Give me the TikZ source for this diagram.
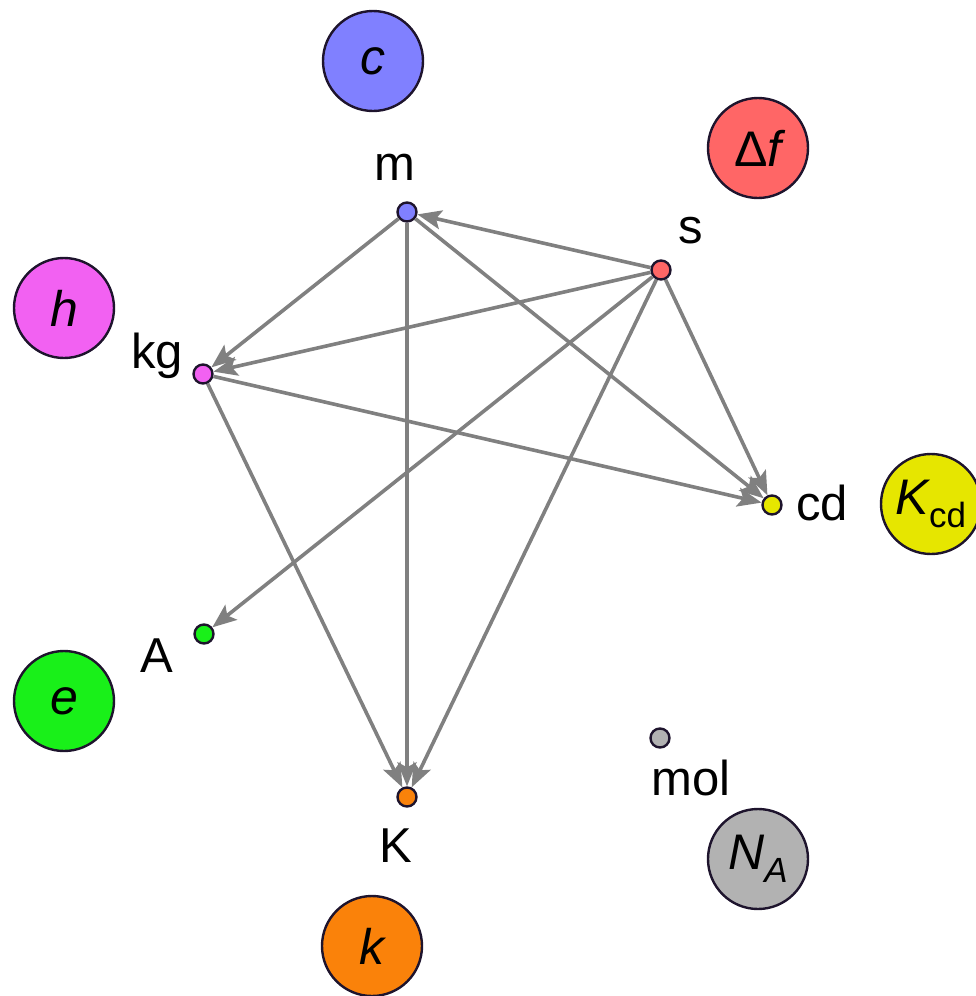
\documentclass[tikz,border=0pt]{standalone}
\usepackage{fontspec}
\setmainfont{Liberation Sans}
\usetikzlibrary{arrows.meta}
\definecolor{cblue}{RGB}{128,128,255}
\definecolor{cred}{RGB}{255,102,102}
\definecolor{cmag}{RGB}{242,97,242}
\definecolor{cyel}{RGB}{230,230,0}
\definecolor{cgreen}{RGB}{25,240,25}
\definecolor{cgray}{RGB}{178,178,178}
\definecolor{corange}{RGB}{250,130,10}
\definecolor{outl}{RGB}{30,20,45}
\definecolor{edgegray}{RGB}{128,128,128}
\begin{document}
\begin{tikzpicture}[x=1pt,y=-1pt,
  bigc/.style={circle,draw=outl,line width=2.4pt,minimum size=100pt,inner sep=0pt,
    font=\fontsize{50}{54}\selectfont\itshape},
  dotn/.style={circle,draw=outl,line width=2.4pt,minimum size=19pt,inner sep=0pt},
  lbl/.style={inner sep=0pt,anchor=base,font=\fontsize{49}{53}\selectfont},
  edge/.style={draw=edgegray,line width=3.6pt,
    -{Stealth[length=24pt,width=19pt,inset=5pt]}}]
\useasboundingbox (0,0) rectangle (975,996);
% big circles
\node[bigc,fill=cblue] (cC) at (373,61) {c};
\node[bigc,fill=cred] (cDf) at (758,148) {{\upshape\symbol{"0394}}f};
\node[bigc,fill=cmag] (cH) at (64,308) {h};
\node[bigc,fill=cyel] (cK) at (931,504) {K\raisebox{-0.25em}{\upshape\fontsize{35}{35}\selectfont cd}};
\node[bigc,fill=cgreen] (cE) at (64,701) {e};
\node[bigc,fill=cgray] (cN) at (758,859) {N\raisebox{-0.25em}{\fontsize{35}{35}\selectfont A}};
\node[bigc,fill=corange] (cKb) at (372,946) {k};
% dots
\node[dotn,fill=cblue] (m) at (407,212) {};
\node[dotn,fill=cred] (s) at (661,270) {};
\node[dotn,fill=cmag] (kg) at (203,374) {};
\node[dotn,fill=cyel] (cd) at (772,505) {};
\node[dotn,fill=cgreen] (A) at (204,634) {};
\node[dotn,fill=cgray] (mol) at (660,738) {};
\node[dotn,fill=corange] (K) at (407,797) {};
% labels
\node[lbl] (mL) at (395,180) {m};
\node[lbl] (sL) at (691,243) {s};
\node[lbl] (kgL) at (157,368) {kg};
\node[lbl] (cdL) at (822,520) {cd};
\node[lbl] (AL) at (157,672) {A};
\node[lbl] (molL) at (691,795) {mol};
\node[lbl] (KL) at (396,862) {K};
% edges
\draw[edge] (s) -- (m);
\draw[edge] (s) -- (kg);
\draw[edge] (s) -- (A);
\draw[edge] (s) -- (K);
\draw[edge] (s) -- (cd);
\draw[edge] (m) -- (kg);
\draw[edge] (m) -- (K);
\draw[edge] (m) -- (cd);
\draw[edge] (kg) -- (cd);
\draw[edge] (kg) -- (K);
\end{tikzpicture}
\end{document}
